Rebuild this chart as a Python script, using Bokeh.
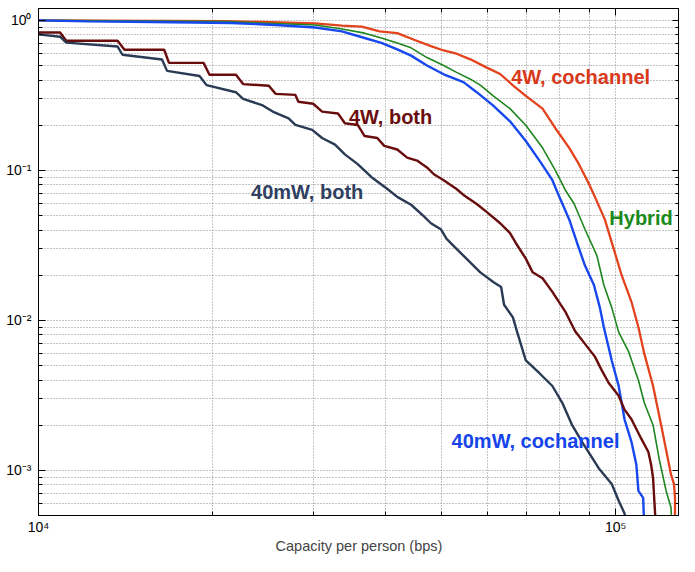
from bokeh.plotting import figure
from bokeh.models import (FixedTicker, LogAxis, Label, CustomJSTickFormatter, Range1d)
from bokeh.embed import file_html
from bokeh.resources import INLINE

# ---------------- data (capacity in bps, fraction of people) ----------------
cochannel_4w_x = [10000, 21150, 30160, 33550, 36310, 38980, 41840, 44740, 47850, 50350,
                  53000, 56020, 59680, 63080, 66370, 69870, 74690, 78610, 83080, 86410,
                  89900, 92040, 95760, 99220, 102400, 106500, 109500, 112100, 116100, 119900,
                  124700, 126200, 126700, 126700]
cochannel_4w_y = [1.0, 0.9895, 0.956, 0.923, 0.909, 0.844, 0.822, 0.743, 0.673, 0.630,
                  0.5995, 0.550, 0.486, 0.439, 0.3687, 0.3138, 0.258, 0.191, 0.1413, 0.1095,
                  0.0810, 0.0666, 0.0471, 0.0300, 0.0200, 0.0133, 0.0090, 0.0060, 0.00365, 0.0020,
                  0.00094, 0.00081, 0.000656, 0.0004]

hybrid_x = [10000, 21150, 30160, 33550, 36730, 39270, 41840, 44210, 47100, 50350,
            53000, 56020, 58270, 61360, 65600, 69870, 74690, 78610, 81780, 84720,
            88470, 92790, 95390, 98450, 101200, 105300, 109500, 112100, 116100, 118900,
            122300, 124700, 125200]
hybrid_y = [1.0, 0.9806, 0.932, 0.877, 0.822, 0.763, 0.7076, 0.656, 0.565, 0.500,
            0.450, 0.4055, 0.370, 0.3138, 0.258, 0.1999, 0.1413, 0.100, 0.0740, 0.0599,
            0.0405, 0.0270, 0.0172, 0.01216, 0.00835, 0.00618, 0.00399, 0.00282, 0.0020, 0.0012,
            0.000729, 0.000565, 0.0004]

cochannel_40mw_x = [10000, 12180, 15730, 21580, 25760, 30160, 33550, 36730, 39270, 41840,
                    44210, 47100, 50350, 54490, 57370, 61360, 65600, 69870, 73790, 77690,
                    79870, 83080, 85730, 88470, 91690, 93890, 95390, 98450, 101200, 103600,
                    106500, 108600, 109500, 111600, 112100]
cochannel_40mw_y = [1.0, 0.985, 0.9747, 0.960, 0.932, 0.896, 0.844, 0.763, 0.7076, 0.640,
                    0.582, 0.500, 0.437, 0.3876, 0.3334, 0.270, 0.2122, 0.157, 0.1162, 0.0860,
                    0.0666, 0.0471, 0.0328, 0.0232, 0.0172, 0.01216, 0.0090, 0.0054, 0.00365, 0.00219,
                    0.00155, 0.00109, 0.000729, 0.000656, 0.0004]

both_4w_x = [10000, 10900, 11170, 13710, 14090, 16510, 16830, 19320, 19780, 21980,
             22620, 25060, 25760, 27870, 28200, 29920, 31000, 33030, 33950, 35730,
             36730, 38640, 39720, 41840, 43520, 45270, 47100, 48420, 50350, 53000,
             54490, 57370, 59680, 63080, 65600, 67140, 69870, 71810, 74690, 77690,
             81780, 85070, 88470, 92040, 94620, 97270, 101200, 103600, 106500, 110800,
             113900, 115200, 116100, 116600, 117500]
both_4w_y = [0.831, 0.831, 0.732, 0.732, 0.637, 0.637, 0.521, 0.521, 0.4338, 0.4338,
             0.376, 0.3665, 0.3235, 0.3185, 0.2868, 0.278, 0.2466, 0.2393, 0.206, 0.2008,
             0.1694, 0.1643, 0.1457, 0.1378, 0.1216, 0.1162, 0.1046, 0.0942, 0.0860, 0.0751,
             0.0686, 0.0599, 0.0531, 0.0444, 0.0382, 0.0328, 0.0258, 0.0209, 0.0191, 0.01548,
             0.01145, 0.00847, 0.00697, 0.00573, 0.00464, 0.00382, 0.00314, 0.00254, 0.00219, 0.00162,
             0.00133, 0.00109, 0.000887, 0.000656, 0.0004]

both_40mw_x = [10000, 10900, 11170, 13710, 13980, 16370, 16700, 19010, 19550, 21980,
               22620, 24470, 25460, 27120, 27870, 29800, 31000, 32640, 33950, 35730,
               37760, 40230, 41840, 44210, 46540, 47850, 49770, 50950, 53000, 55130,
               58270, 61360, 63320, 64070, 66370, 67430, 69870, 73790, 77690, 80810,
               84070, 87440, 93520, 98450, 101200, 103600, 104600]
both_40mw_y = [0.806, 0.778, 0.711, 0.669, 0.590, 0.548, 0.4606, 0.426, 0.370, 0.3319,
               0.300, 0.271, 0.2466, 0.222, 0.2008, 0.1862, 0.1643, 0.1486, 0.1278, 0.11,
               0.090, 0.0751, 0.0666, 0.0590, 0.0493, 0.0444, 0.0405, 0.0349, 0.0300, 0.0258,
               0.0209, 0.0180, 0.0167, 0.0127, 0.01046, 0.00847, 0.0054, 0.00444, 0.00365, 0.00282,
               0.0020, 0.00155, 0.00103, 0.00081, 0.000627, 0.000516, 0.0004]

x_tick_values = [1e4, 1e5]
x_tick_labels = ["10\u2074", "10\u2075"]
x_minor_values = [2e4, 3e4, 4e4, 5e4, 6e4, 7e4, 8e4, 9e4]
y_tick_values = [1e-3, 1e-2, 1e-1, 1.0]
y_tick_labels = ["10\u207b\u00b3", "10\u207b\u00b2", "10\u207b\u00b9", "10\u2070"]
y_minor_values = [m * d for d in (1e-4, 1e-3, 1e-2, 1e-1) for m in range(2, 10)]

x_label = "Capacity per person (bps)"

series = [
    ("4W, cochannel", cochannel_4w_x, cochannel_4w_y, "#e2431d", 2.3),
    ("Hybrid", hybrid_x, hybrid_y, "#1f861f", 1.6),
    ("40mW, cochannel", cochannel_40mw_x, cochannel_40mw_y, "#1648ee", 2.4),
    ("4W, both", both_4w_x, both_4w_y, "#680c0c", 2.4),
    ("40mW, both", both_40mw_x, both_40mw_y, "#2a3a55", 2.4),
]

# label anchor points (data coords) and colours
labels = [
    ("4W, cochannel", 65900, 0.418, "#d9381a"),
    ("4W, both", 34500, 0.2254, "#6a0e0e"),
    ("40mW, both", 23350, 0.0718, "#2f4060"),
    ("Hybrid", 97500, 0.0478, "#1a8a1a"),
    ("40mW, cochannel", 51970, 0.00157, "#1545ea"),
]

FONT = "Liberation Sans"

p = figure(width=679, height=556, x_axis_type="log", y_axis_type="log",
           x_range=Range1d(1e4, 1.29e5), y_range=Range1d(5e-4, 1.2),
           output_backend="svg", toolbar_location=None,
           min_border_left=38, min_border_right=0, min_border_top=8, min_border_bottom=34)
p.background_fill_color = "white"
p.border_fill_color = "white"
p.outline_line_color = "black"
p.outline_line_width = 1

xt = FixedTicker(ticks=x_tick_values, minor_ticks=x_minor_values)
yt = FixedTicker(ticks=y_tick_values, minor_ticks=y_minor_values)

fmt_code = """
for (let i = 0; i < vals.length; i++) {
  if (Math.abs(vals[i] - tick) <= 1e-9 * Math.abs(vals[i])) return labs[i];
}
return "";
"""
fx = CustomJSTickFormatter(args=dict(vals=x_tick_values, labs=x_tick_labels), code=fmt_code)
fy = CustomJSTickFormatter(args=dict(vals=y_tick_values, labs=y_tick_labels), code=fmt_code)
fnone = CustomJSTickFormatter(code='return "";')

for ax, t, f in ((p.xaxis[0], xt, fx), (p.yaxis[0], yt, fy)):
    ax.ticker = t
    ax.formatter = f
    ax.major_tick_in = 7
    ax.major_tick_out = 0
    ax.minor_tick_in = 4
    ax.minor_tick_out = 0
    ax.axis_line_color = "black"
    ax.major_tick_line_color = "black"
    ax.minor_tick_line_color = "black"
    ax.major_label_text_font = FONT
    ax.major_label_text_font_size = "14px"
    ax.major_label_text_color = "black"

p.yaxis[0].major_label_standoff = 7
p.xaxis[0].major_label_standoff = 3
p.xaxis[0].axis_label = x_label
p.xaxis[0].axis_label_text_font = FONT
p.xaxis[0].axis_label_text_font_style = "normal"
p.xaxis[0].axis_label_text_font_size = "14.5px"
p.xaxis[0].axis_label_standoff = 0

# tick-only axes on top and right (box style)
top_ax = LogAxis(ticker=xt, formatter=fnone)
right_ax = LogAxis(ticker=yt, formatter=fnone)
for ax in (top_ax, right_ax):
    ax.major_tick_in = 7
    ax.major_tick_out = 0
    ax.minor_tick_in = 4
    ax.minor_tick_out = 0
    ax.major_label_text_font_size = "0px"
    ax.major_label_standoff = 0
    ax.axis_line_color = "black"
p.add_layout(top_ax, "above")
p.add_layout(right_ax, "right")

for g in (p.xgrid[0], p.ygrid[0]):
    g.grid_line_color = "#8a8a8a"
    g.grid_line_dash = "1 2"
    g.grid_line_width = 1
    g.minor_grid_line_color = "#8a8a8a"
    g.minor_grid_line_dash = "1 2"
    g.minor_grid_line_width = 1
p.xgrid[0].ticker = xt
p.ygrid[0].ticker = yt

for name, xs, ys, color, w in series:
    p.line(xs, ys, line_color=color, line_width=w)

for text, lx, ly, color in labels:
    p.add_layout(Label(x=lx, y=ly, text=text, text_color=color, text_font=FONT,
                       text_font_style="bold", text_font_size="20px",
                       text_baseline="alphabetic", text_align="left"))

open("out.html", "w").write(file_html(p, INLINE))
